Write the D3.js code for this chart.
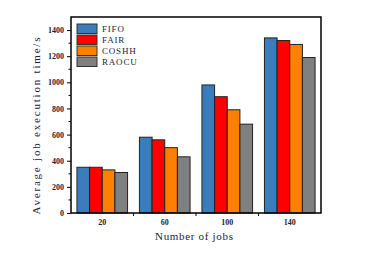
<!DOCTYPE html>
<html>
<head>
<meta charset="utf-8">
<script src="https://cdn.jsdelivr.net/npm/d3@7"></script>
<style>
  body { margin: 0; background: #fff; }
  text { font-family: "Liberation Serif", "DejaVu Serif", serif; fill: #1c1c3c; }
</style>
</head>
<body>
<script>
var jobs = ["20", "60", "100", "140"];
var methods = ["FIFO", "FAIR", "COSHH", "RAOCU"];
var fifo = [350, 580, 980, 1340];
var fair = [350, 560, 890, 1320];
var coshh = [330, 500, 790, 1290];
var raocu = [310, 430, 680, 1190];
var colors = ["#3a7dbd", "#ff0000", "#ff8000", "#808080"];
var yTicks = [0, 200, 400, 600, 800, 1000, 1200, 1400];

var series = [fifo, fair, coshh, raocu];

var margin = { top: 17, right: 63, bottom: 57, left: 71 },
  width = 384 - margin.left - margin.right,
  height = 270 - margin.top - margin.bottom;

var svg = d3
  .select("body")
  .append("svg")
  .attr("width", 384)
  .attr("height", 270);

var g = svg
  .append("g")
  .attr("transform", "translate(" + margin.left + "," + margin.top + ")");

var x = d3.scaleBand().domain(jobs).range([0, width]).paddingInner(0.19).paddingOuter(0.095);
var xs = d3.scaleBand().domain(methods).range([0, x.bandwidth()]);
var y = d3.scaleLinear().domain([0, 1500]).range([height, 0]);

// bars
jobs.forEach(function (j, i) {
  methods.forEach(function (m, k) {
    g.append("rect")
      .attr("x", x(j) + xs(m))
      .attr("y", y(series[k][i]))
      .attr("width", xs.bandwidth())
      .attr("height", height - y(series[k][i]))
      .attr("fill", colors[k])
      .attr("stroke", "#222")
      .attr("stroke-width", 1);
  });
});

// minor y ticks
g.selectAll(".minor")
  .data(d3.range(100, 1500, 200))
  .enter()
  .append("line")
  .attr("x1", -2.5)
  .attr("x2", 0)
  .attr("y1", function (d) { return y(d); })
  .attr("y2", function (d) { return y(d); })
  .attr("stroke", "#000");

var yAxis = g.append("g").call(
  d3.axisLeft(y).tickValues(yTicks).tickFormat(d3.format("d")).tickSize(4).tickPadding(3)
);
yAxis.select(".domain").remove();
yAxis.selectAll("text")
  .style("font-size", "8px")
  .style("font-weight", "bold");

// x axis: ticks at group boundaries
var step = x.step();
var bounds = jobs.slice(1).map(function (j) { return x(j) - (step - x.bandwidth()) / 2; });
g.selectAll(".xt")
  .data(bounds)
  .enter()
  .append("line")
  .attr("x1", function (d) { return d; })
  .attr("x2", function (d) { return d; })
  .attr("y1", height)
  .attr("y2", height + 3)
  .attr("stroke", "#000");

g.selectAll(".xl")
  .data(jobs)
  .enter()
  .append("text")
  .attr("x", function (d) { return x(d) + x.bandwidth() / 2; })
  .attr("y", height + 12)
  .attr("text-anchor", "middle")
  .style("font-size", "8px")
  .style("font-weight", "bold")
  .text(function (d) { return d; });

// frame
g.append("rect")
  .attr("width", width)
  .attr("height", height)
  .attr("fill", "none")
  .attr("stroke", "#000")
  .attr("stroke-width", 1.5);

// axis titles
g.append("text")
  .attr("x", width / 2 - 2)
  .attr("y", height + 27)
  .attr("text-anchor", "middle")
  .attr("textLength", 78)
  .attr("lengthAdjust", "spacing")
  .style("font-size", "11px")
  .text("Number of jobs");

g.append("text")
  .attr("transform", "translate(" + (-31) + "," + (height / 2 + 11) + ") rotate(-90)")
  .attr("text-anchor", "middle")
  .attr("textLength", 177)
  .attr("lengthAdjust", "spacing")
  .style("font-size", "11px")
  .text("Average job execution time/s");

// legend
var legend = g.append("g").attr("transform", "translate(6,7)");
methods.forEach(function (m, k) {
  var row = legend.append("g").attr("transform", "translate(0," + k * 11 + ")");
  row.append("rect")
    .attr("width", 20)
    .attr("height", 9.5)
    .attr("fill", colors[k])
    .attr("stroke", "#333")
    .attr("stroke-width", 1);
  row.append("text")
    .attr("x", 25)
    .attr("y", 8)
    .style("font-size", "9px")
    .style("letter-spacing", "0.8px")
    .text(m);
});
</script>
</body>
</html>
